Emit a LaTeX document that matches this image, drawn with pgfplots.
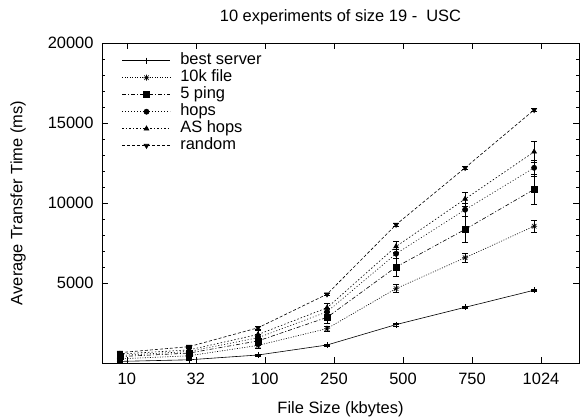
\documentclass[border=0pt]{standalone}
\usepackage{fontspec}
\setmainfont{Liberation Sans}
\usepackage{pgfplots}
\pgfplotsset{compat=1.18}
\pgfdeclareplotmark{plusx}{%
 \pgfpathmoveto{\pgfqpoint{-\pgfplotmarksize}{0pt}}\pgfpathlineto{\pgfqpoint{\pgfplotmarksize}{0pt}}%
 \pgfpathmoveto{\pgfqpoint{0pt}{-\pgfplotmarksize}}\pgfpathlineto{\pgfqpoint{0pt}{\pgfplotmarksize}}%
 \pgfpathmoveto{\pgfqpoint{-.75\pgfplotmarksize}{-.75\pgfplotmarksize}}\pgfpathlineto{\pgfqpoint{.75\pgfplotmarksize}{.75\pgfplotmarksize}}%
 \pgfpathmoveto{\pgfqpoint{-.75\pgfplotmarksize}{.75\pgfplotmarksize}}\pgfpathlineto{\pgfqpoint{.75\pgfplotmarksize}{-.75\pgfplotmarksize}}%
 \pgfusepathqstroke}
\newcommand{\chartfont}{\fontsize{16.5}{19}\selectfont}
\begin{document}
\begin{tikzpicture}[font=\chartfont]
\begin{axis}[
 scale only axis, width=477bp, height=320bp,
 xmin=-0.36, xmax=6.55, ymin=0, ymax=20000,
 xtick={0,...,6}, xticklabels={10,32,100,250,500,750,1024},
 ytick={5000,10000,15000,20000},
 minor y tick num=4,
 tick align=inside,
 major tick length=6bp, minor tick length=3bp,
 axis line style={line width=0.8bp},
 tick style={black, line width=0.6bp},
 /pgf/number format/assume math mode=true,
 scaled y ticks=false,
 yticklabel style={/pgf/number format/1000 sep={}, font=\chartfont, xshift=-5bp},
 xticklabel style={font=\chartfont, yshift=-7bp},
 title={10 experiments of size 19 -\ \ USC},
 title style={at={(axis description cs:0.5,1)}, anchor=base, yshift=16bp, font=\chartfont},
 xlabel={File Size (kbytes)},
 xlabel style={at={(axis description cs:0.5,0)}, anchor=base, yshift=-50bp, font=\chartfont},
 ylabel={Average Transfer Time (ms)},
 ylabel style={at={(axis description cs:-0.176,0.5)}, anchor=center, font=\chartfont},
 every axis plot/.append style={line width=0.6bp, black},
 legend style={draw=none, fill=none, at={(axis description cs:0,1)}, anchor=north west,
   xshift=20bp, yshift=-9bp, inner sep=0pt, row sep=0pt, font=\chartfont,
   nodes={text height=11bp, text depth=3bp, inner sep=1.5bp},
   /tikz/every odd column/.append style={column sep=8bp}},
 legend cell align=left,
 legend image code/.code={\draw[mark repeat=2,mark phase=2] plot coordinates {(0bp,0bp) (24bp,0bp) (48bp,0bp)};},
 error bars/y dir=both, error bars/y explicit,
 error bars/error bar style={line width=0.5bp, solid},
 error bars/error mark options={rotate=90, mark size=3bp, line width=0.5bp, solid},
]
\coordinate (SW) at (rel axis cs:0,0);
\coordinate (NE) at (rel axis cs:1,1);
\addplot[solid, mark=+, mark size=3bp, mark options={solid}] coordinates {
 (-0.1,100) +- (0,40) (0.9,200) +- (0,40) (1.9,500) +- (0,50) (2.9,1125) +- (0,60)
 (3.9,2400) +- (0,80) (4.9,3480) +- (0,80) (5.9,4550) +- (0,90)};
\addlegendentry{best server}
\addplot[dash pattern=on 1bp off 1.5bp, mark=plusx, mark size=3bp, mark options={solid}] coordinates {
 (-0.1,260) +- (0,120) (0.9,450) +- (0,120) (1.9,1100) +- (0,150) (2.9,2150) +- (0,150)
 (3.9,4650) +- (0,250) (4.9,6580) +- (0,280) (5.9,8550) +- (0,380)};
\addlegendentry{10k file}
\addplot[dash pattern=on 4bp off 2bp on 1bp off 2bp, mark=square*, mark size=3bp, mark options={solid}] coordinates {
 (-0.1,400) +- (0,250) (0.9,620) +- (0,300) (1.9,1380) +- (0,300) (2.9,2850) +- (0,350)
 (3.9,6000) +- (0,550) (4.9,8350) +- (0,800) (5.9,10850) +- (0,950)};
\addlegendentry{5 ping}
\addplot[dash pattern=on 1bp off 2bp, mark=*, mark size=2.6bp, mark options={solid}] coordinates {
 (-0.1,470) +- (0,200) (0.9,720) +- (0,200) (1.9,1580) +- (0,200) (2.9,3200) +- (0,250)
 (3.9,6830) +- (0,300) (4.9,9580) +- (0,400) (5.9,12200) +- (0,500)};
\addlegendentry{hops}
\addplot[dash pattern=on 1.5bp off 2bp, mark=triangle*, mark size=2.8bp, mark options={solid}] coordinates {
 (-0.1,560) +- (0,200) (0.9,820) +- (0,250) (1.9,1780) +- (0,250) (2.9,3450) +- (0,300)
 (3.9,7280) +- (0,350) (4.9,10250) +- (0,450) (5.9,13200) +- (0,680)};
\addlegendentry{AS hops}
\addplot[dash pattern=on 3bp off 2bp, mark=triangle*, mark size=2.8bp, mark options={solid, rotate=180}] coordinates {
 (-0.1,650) +- (0,60) (0.9,1020) +- (0,60) (1.9,2200) +- (0,70) (2.9,4300) +- (0,80)
 (3.9,8650) +- (0,90) (4.9,12200) +- (0,100) (5.9,15820) +- (0,110)};
\addlegendentry{random}
\end{axis}
\pgfresetboundingbox
\path ([xshift=-102bp,yshift=-54bp]SW) rectangle ([xshift=2bp,yshift=43bp]NE);
\end{tikzpicture}
\end{document}
